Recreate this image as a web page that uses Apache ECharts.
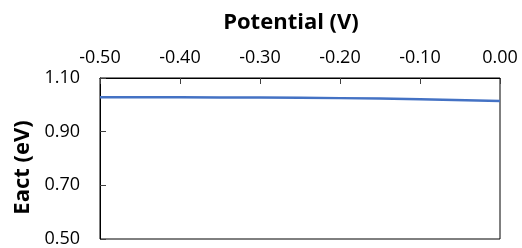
<!DOCTYPE html>
<html><head><meta charset="utf-8">
<script src="https://cdn.jsdelivr.net/npm/echarts@6/dist/echarts.min.js"></script>
<style>html,body{margin:0;padding:0;background:#fff}#c{width:522px;height:248px}</style>
</head><body><div id="c"></div>
<script>
const potential = [-0.5, -0.4, -0.3, -0.2, -0.1, 0.0];
const eact = [1.028, 1.028, 1.027, 1.025, 1.021, 1.014];
const xTicks = [-0.5, -0.4, -0.3, -0.2, -0.1, 0.0];
const yTicks = [0.5, 0.7, 0.9, 1.1];
const xTitle = 'Potential (V)';
const yTitle = 'Eact (eV)';

const font = '"Open Sans", sans-serif';
const chart = echarts.init(document.getElementById('c'));
chart.setOption({
  animation: false,
  grid: { left: 100, right: 22, top: 78, bottom: 6, show: true, borderColor: '#000', borderWidth: 1 },
  xAxis: {
    type: 'value', position: 'top', min: -0.5, max: 0, interval: 0.1,
    name: xTitle, nameLocation: 'middle', nameGap: 44,
    nameTextStyle: { fontFamily: font, fontSize: 22, fontWeight: 'bold', color: '#000', padding: [0, 18, 0, 0] },
    axisLine: { show: true, onZero: false, lineStyle: { color: '#000', width: 1 } },
    axisTick: { show: true, inside: true, length: 6, customValues: xTicks, lineStyle: { color: '#404040' } },
    axisLabel: { fontFamily: font, fontSize: 18, color: '#000', margin: 11, customValues: xTicks, formatter: v => v.toFixed(2) },
    splitLine: { show: false }
  },
  yAxis: {
    type: 'value', min: 0.5, max: 1.1,
    name: yTitle, nameLocation: 'middle', nameGap: 64,
    nameTextStyle: { fontFamily: font, fontSize: 22, fontWeight: 'bold', color: '#000', padding: [0, 18, 0, 0] },
    axisLine: { show: true, onZero: false, lineStyle: { color: '#000', width: 1 } },
    axisTick: { show: true, inside: true, length: 6, customValues: yTicks, lineStyle: { color: '#404040' } },
    axisLabel: { fontFamily: font, fontSize: 18, color: '#000', margin: 20, customValues: yTicks, formatter: v => v.toFixed(2) },
    splitLine: { show: false }
  },
  series: [{
    type: 'line', data: potential.map((x, i) => [x, eact[i]]),
    smooth: true, showSymbol: false, lineStyle: { color: '#4472C4', width: 2.5 }
  }]
});
</script></body></html>
